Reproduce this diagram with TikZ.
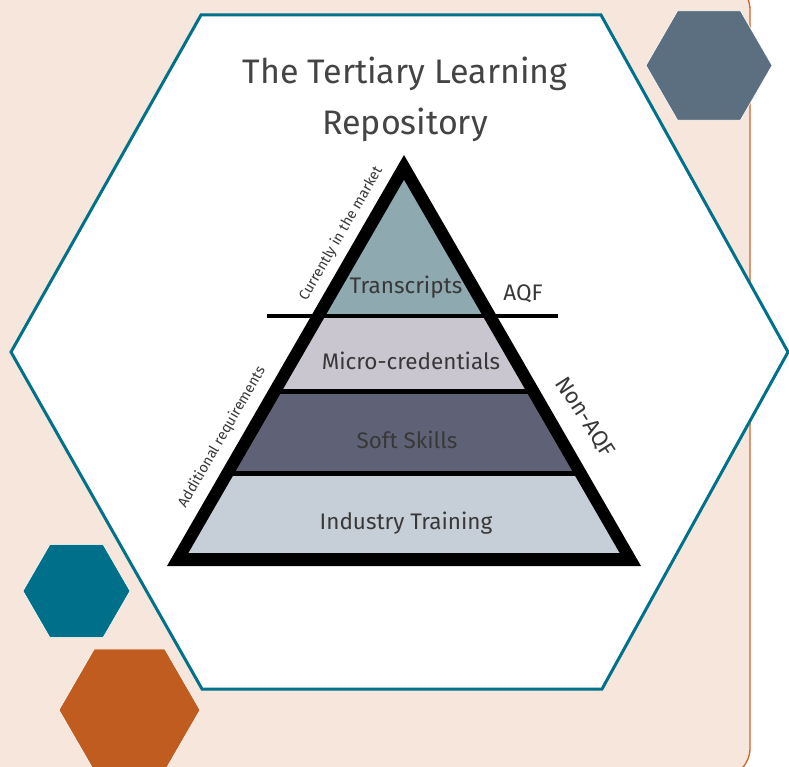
\documentclass[tikz,border=0pt]{standalone}
\usepackage{fontspec}
\setmainfont{Fira Sans}
\usetikzlibrary{shapes.geometric}
\definecolor{peach}{HTML}{F7E6DC}
\definecolor{orangeline}{HTML}{D0652A}
\definecolor{hexteal}{HTML}{00718A}
\definecolor{slatehex}{HTML}{5C6F80}
\definecolor{tealhex}{HTML}{006F89}
\definecolor{orangehex}{HTML}{C05C1F}
\definecolor{bandA}{HTML}{8FA9B0}
\definecolor{bandB}{HTML}{CAC6CF}
\definecolor{bandC}{HTML}{5F6276}
\definecolor{bandD}{HTML}{C6CED7}
\definecolor{txt}{HTML}{383838}
\definecolor{titletxt}{HTML}{444444}
\tikzset{
  hexa/.style={regular polygon, regular polygon sides=6, shape border rotate=0,
    inner sep=0pt, outer sep=0pt, draw=white, line width=0.6pt},
  titletext/.style={font=\fontsize{34}{40}\selectfont, text=titletxt, inner sep=0pt},
  bandtext/.style={font=\fontsize{22.5}{27}\selectfont, text=txt, inner sep=0pt},
  sidetext/.style={font=\fontsize{14.5}{17}\selectfont, text=txt, inner sep=0pt},
}
\begin{document}
\begin{tikzpicture}[x=1pt,y=-1pt]
\useasboundingbox (0,0) rectangle (789,767);
\fill[white] (0,0) rectangle (789,767);
% background panel
\draw[fill=peach, draw=orangeline, line width=1.3pt, rounded corners=30pt] (-20,-20) rectangle (750,778);
% big hexagon
\draw[fill=white, draw=hexteal, line width=3pt, line join=miter] (11,352) -- (201,15) -- (601,15) -- (788,352) -- (602,689) -- (202,689) -- cycle;
% small hexagons
\node[hexa, fill=slatehex, minimum size=126pt] (hexslate) at (709,65.5) {};
\node[hexa, fill=tealhex, minimum size=107pt] (hexteal) at (76.5,591) {};
\node[hexa, fill=orangehex, minimum size=141pt] (hexorange) at (129.5,710) {};
% title
\node[titletext] (title1) at (405,74) {The Tertiary Learning};
\node[titletext] (title2) at (405,125) {Repository};
% pyramid
\fill[black] (404,155) -- (641,566) -- (167,566) -- cycle;
\begin{scope}
\clip (404,180) -- (619.5,553) -- (188.5,553) -- cycle;
\fill[bandA] (150,170) rectangle (660,314);
\fill[bandB] (150,318) rectangle (660,388.5);
\fill[bandC] (150,393.5) rectangle (660,470.5);
\fill[bandD] (150,475.5) rectangle (660,553);
\end{scope}
\coordinate (aqfL) at (267,316);
\coordinate (aqfR) at (558,316);
\draw[black, line width=4.5pt] (aqfL) -- (aqfR);
% labels
\node[bandtext] (transcripts) at (406,287) {Transcripts};
\node[bandtext] (aqf) at (523,294) {AQF};
\node[bandtext] (micro) at (411,361) {Micro-credentials};
\node[bandtext] (soft) at (407,440) {Soft Skills};
\node[bandtext] (industry) at (406,523) {Industry Training};
\node[bandtext, rotate=-57] (nonaqf) at (585,417) {Non-AQF};
\node[sidetext, rotate=60] (market) at (341,234) {Currently in the market};
\node[sidetext, rotate=60] (additional) at (222,437) {Additional requirements};
\end{tikzpicture}
\end{document}
